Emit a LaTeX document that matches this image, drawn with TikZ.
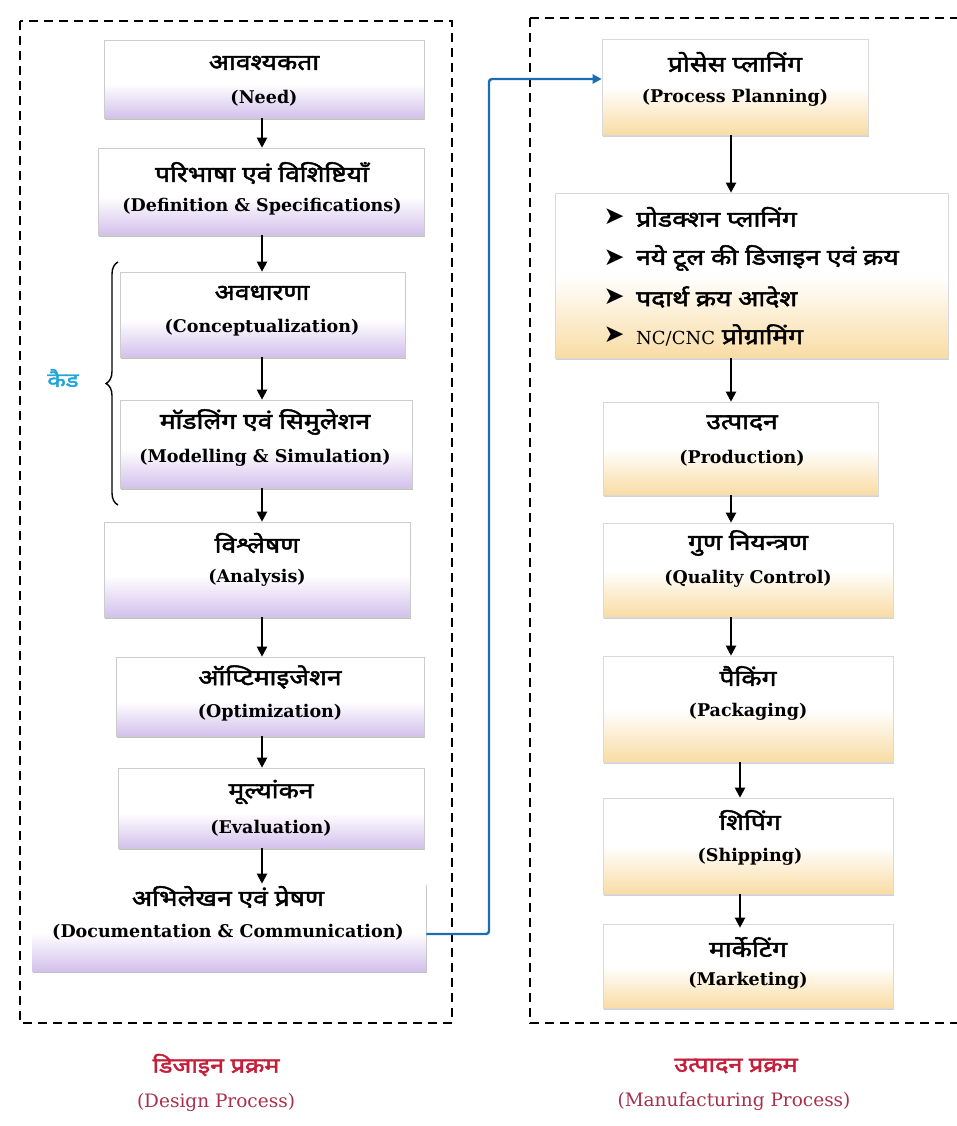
\documentclass[tikz,border=0pt]{standalone}
\usepackage{fontspec}
\setmainfont{DejaVu Serif}
\newfontfamily\hifont[Script=Devanagari, FakeBold=2.2, FakeStretch=1.2]{Noto Sans}
\newfontfamily\symfont{DejaVu Sans}
\usetikzlibrary{arrows.meta,shadows,decorations.pathreplacing}
\definecolor{lav}{HTML}{D3C0EC}
\definecolor{peach}{HTML}{F9DCA4}
\definecolor{bluec}{HTML}{1C6DB3}
\definecolor{capred}{HTML}{C41F3A}
\definecolor{capred2}{HTML}{A8304A}
\definecolor{cadblue}{HTML}{22A3DA}
\pgfdeclareverticalshading{lavsh}{100bp}{color(0bp)=(lav); color(25bp)=(lav); color(47bp)=(white); color(100bp)=(white)}
\pgfdeclareverticalshading{peachsh}{100bp}{color(0bp)=(peach); color(25bp)=(peach); color(50bp)=(white); color(100bp)=(white)}
\tikzset{
  lbox/.style={rectangle, draw=gray!40, line width=0.6pt, shading=lavsh, inner sep=0pt,
    drop shadow={shadow xshift=1.2pt, shadow yshift=-2.2pt, fill=gray!80, opacity=0.6}},
  rbox/.style={rectangle, draw=gray!30, line width=0.6pt, shading=peachsh, inner sep=0pt,
    drop shadow={shadow xshift=1.2pt, shadow yshift=-2.2pt, fill=gray!70, opacity=0.5}},
  hi/.style={font=\hifont\fontsize{22}{26}\selectfont, inner sep=0pt},
  en/.style={font=\bfseries\fontsize{17.5}{20}\selectfont, inner sep=0pt},
  item/.style={font=\hifont\fontsize{22}{26}\selectfont, inner sep=0pt, anchor=west},
  bul/.style={font=\symfont\fontsize{25}{28}\selectfont, inner sep=0pt},
  flow/.style={-{Triangle[length=10pt,width=10pt]}, line width=2pt, black},
  bflow/.style={-{Triangle[length=9pt,width=9pt]}, line width=2.4pt, bluec, rounded corners=3pt},
  dashframe/.style={draw=black, line width=2.8pt, dash pattern=on 9pt off 6pt},
  caphi/.style={font=\hifont\fontsize{21}{25}\selectfont, text=capred, inner sep=0pt},
  capen/.style={font=\fontsize{18.5}{22}\selectfont, text=capred2, inner sep=0pt}
}
\begin{document}
\begin{tikzpicture}[x=1pt,y=-1pt]
\useasboundingbox (0,0) rectangle (957,1126);
% frames
\draw[dashframe] (20,21) rectangle (452,1023);
\draw[dashframe] (530,18) -- (962,18);
\draw[dashframe] (530,18) -- (530,1023) -- (962,1023);

% left boxes
\node[lbox, minimum width=320pt, minimum height=78pt] (need) at (264,79) {};
\node[lbox, minimum width=326pt, minimum height=87pt] (def) at (261,191.5) {};
\node[lbox, minimum width=285pt, minimum height=85pt] (con) at (262.5,314.5) {};
\node[lbox, minimum width=292pt, minimum height=88pt] (mod) at (266,444) {};
\node[lbox, minimum width=306pt, minimum height=95pt] (ana) at (257,569.5) {};
\node[lbox, minimum width=308pt, minimum height=79pt] (opt) at (270,696.5) {};
\node[lbox, minimum width=306pt, minimum height=80pt] (eva) at (271,808) {};
\node[lbox, minimum width=394pt, minimum height=88pt, draw=none] (doc) at (229,927) {};

\node[hi] (needh) at (264,63) {आवश्यकता};
\node[en] (neede) at (264,98) {(Need)};
\node[hi] (defh) at (262,173) {परिभाषा एवं विशिष्टियाँ};
\node[en] (defe) at (262,207) {(Definition \& Specifications)};
\node[hi] (conh) at (262,293) {अवधारणा};
\node[en] (cone) at (262,328) {(Conceptualization)};
\node[hi] (modh) at (265,422) {मॉडलिंग एवं सिमुलेशन};
\node[en] (mode) at (265,458) {(Modelling \& Simulation)};
\node[hi] (anah) at (257,543) {विश्लेषण};
\node[en] (anae) at (257,578) {(Analysis)};
\node[hi] (opth) at (270,677) {ऑप्टिमाइजेशन};
\node[en] (opte) at (270,713) {(Optimization)};
\node[hi] (evah) at (271,792) {मूल्यांकन};
\node[en] (evae) at (271,828) {(Evaluation)};
\node[hi] (doch) at (228,897) {अभिलेखन एवं प्रेषण};
\node[en] (doce) at (228,932) {(Documentation \& Communication)};

\coordinate (lx) at (262,0);
\draw[flow] (need.south -| lx) -- (def.north -| lx);
\draw[flow] (def.south -| lx) -- (con.north -| lx);
\draw[flow] (con.south -| lx) -- (mod.north -| lx);
\draw[flow] (mod.south -| lx) -- (ana.north -| lx);
\draw[flow] (ana.south -| lx) -- (opt.north -| lx);
\draw[flow] (opt.south -| lx) -- (eva.north -| lx);
\draw[flow] (eva.south -| lx) -- ([yshift=-1pt]doc.north -| lx);

% brace and CAD
\coordinate (brb) at (118,505);
\coordinate (brt) at (118,262);
\draw[line width=1.4pt, decorate, decoration={brace, amplitude=12pt}] (brb) -- (brt);
\node[font=\hifont\fontsize{20}{24}\selectfont, text=cadblue, inner sep=0pt] (cad) at (63,378) {कैड};

% right boxes
\node[rbox, minimum width=266pt, minimum height=96pt] (pp) at (735,87) {};
\node[rbox, minimum width=393pt, minimum height=165pt] (list) at (751.5,275.5) {};
\node[rbox, minimum width=275pt, minimum height=93pt] (prod) at (740.5,448.5) {};
\node[rbox, minimum width=290pt, minimum height=94pt] (qc) at (748,570) {};
\node[rbox, minimum width=290pt, minimum height=106pt] (pack) at (748,709) {};
\node[rbox, minimum width=290pt, minimum height=96pt] (ship) at (748,846) {};
\node[rbox, minimum width=290pt, minimum height=84pt] (mark) at (748,966) {};

\node[hi] (pph) at (735,62) {प्रोसेस प्लानिंग};
\node[en] (ppe) at (735,98) {(Process Planning)};
\node[bul] (b1) at (614,217) {➤};
\node[bul] (b2) at (614,258) {➤};
\node[bul] (b3) at (614,297) {➤};
\node[bul] (b4) at (614,335) {➤};
\node[item] (i1) at (636,217) {प्रोडक्शन प्लानिंग};
\node[item] (i2) at (636,258) {नये टूल की डिजाइन एवं क्रय};
\node[item] (i3) at (636,297) {पदार्थ क्रय आदेश};
\node[item] (i4) at (636,335) {{\rmfamily\mdseries\fontsize{18}{21}\selectfont NC/CNC} प्रोग्रामिंग};
\node[hi] (prodh) at (742,423) {उत्पादन};
\node[en] (prode) at (742,458) {(Production)};
\node[hi] (qch) at (748,543) {गुण नियन्त्रण};
\node[en] (qce) at (748,579) {(Quality Control)};
\node[hi] (packh) at (748,676) {पैकिंग};
\node[en] (packe) at (748,712) {(Packaging)};
\node[hi] (shiph) at (750,820) {शिपिंग};
\node[en] (shipe) at (750,857) {(Shipping)};
\node[hi] (markh) at (748,947) {मार्केटिंग};
\node[en] (marke) at (748,981) {(Marketing)};

\coordinate (rx1) at (731,0);
\coordinate (rx2) at (740,0);
\draw[flow] (pp.south -| rx1) -- (list.north -| rx1);
\draw[flow] (list.south -| rx1) -- (prod.north -| rx1);
\draw[flow] (prod.south -| rx1) -- (qc.north -| rx1);
\draw[flow] (qc.south -| rx1) -- (pack.north -| rx1);
\draw[flow] (pack.south -| rx2) -- (ship.north -| rx2);
\draw[flow] (ship.south -| rx2) -- ([yshift=-4pt]mark.north -| rx2);

% blue connector
\coordinate (bx) at (489,500);
\draw[bflow] ([yshift=-7pt]doc.east) -| (bx) |- ([yshift=8pt]pp.west);

% captions
\node[caphi] (c1h) at (216,1065) {डिजाइन प्रक्रम};
\node[capen] (c1e) at (216,1103) {(Design Process)};
\node[caphi] (c2h) at (736,1066) {उत्पादन प्रक्रम};
\node[capen] (c2e) at (734,1102) {(Manufacturing Process)};
\end{tikzpicture}
\end{document}
